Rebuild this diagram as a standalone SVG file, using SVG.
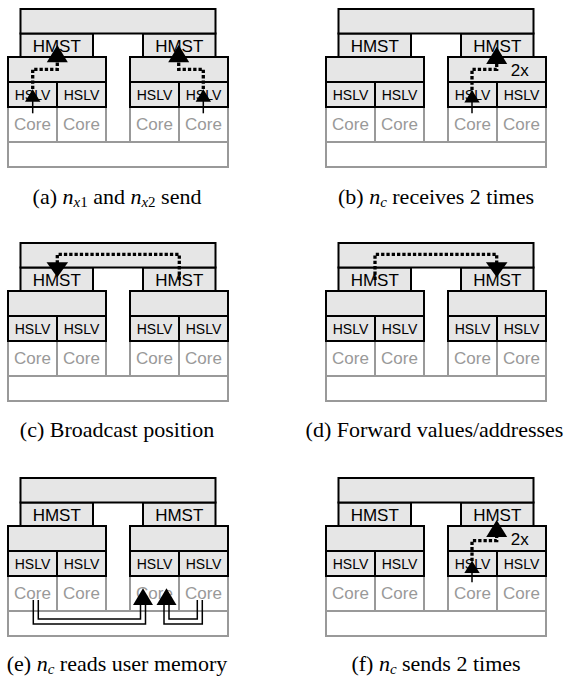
<svg xmlns="http://www.w3.org/2000/svg" width="579" height="679" viewBox="0 0 579 679">
<style>
.g{fill:#e6e6e6;stroke:#000;stroke-width:2}
.w{fill:#fff;stroke:#999;stroke-width:2}
.t{font-family:"Liberation Sans",Arial,sans-serif;text-anchor:middle;fill:#000}
.hm{font-size:17px}
.hs{font-size:14px}
.co{font-size:17px;fill:#999}
.tx{font-family:"Liberation Sans",Arial,sans-serif;font-size:17px;fill:#000}
.dot{fill:none;stroke:#000;stroke-width:3.3;stroke-dasharray:3.3 2}
.thin{fill:none;stroke:#000;stroke-width:1.5}
.head{fill:#000}
.cap{font-family:"Liberation Serif","Times New Roman",serif;font-size:22px;text-anchor:middle;fill:#000}
.it{font-style:italic}
</style>
<defs>
<g id="base">
<rect class="w" x="0" y="133" width="220" height="25"/>
<rect class="w" x="0" y="98" width="49" height="35"/><text class="t co" x="24.5" y="121">Core</text>
<rect class="w" x="49" y="98" width="49" height="35"/><text class="t co" x="73.5" y="121">Core</text>
<rect class="w" x="122" y="98" width="49" height="35"/><text class="t co" x="146.5" y="121">Core</text>
<rect class="w" x="171" y="98" width="49" height="35"/><text class="t co" x="195.5" y="121">Core</text>
<rect class="g" x="0" y="48" width="98" height="25"/>
<rect class="g" x="122" y="48" width="98" height="25"/>
<rect class="g" x="0" y="73" width="49" height="25"/><text class="t hs" x="24.5" y="91">HSLV</text>
<rect class="g" x="49" y="73" width="49" height="25"/><text class="t hs" x="73.5" y="91">HSLV</text>
<rect class="g" x="122" y="73" width="49" height="25"/><text class="t hs" x="146.5" y="91">HSLV</text>
<rect class="g" x="171" y="73" width="49" height="25"/><text class="t hs" x="195.5" y="91">HSLV</text>
<rect class="g" x="12.5" y="24.5" width="72.5" height="23.5"/><text class="t hm" x="48.75" y="42.5">HMST</text>
<rect class="g" x="135" y="24.5" width="72.5" height="23.5"/><text class="t hm" x="171.25" y="42.5">HMST</text>
<rect class="g" x="12.5" y="0" width="195" height="24.5"/>
</g>
</defs>
<g id="panel-a" transform="translate(8,9)"><use href="#base"/></g>
<g id="panel-b" transform="translate(326,9)"><use href="#base"/></g>
<g id="panel-c" transform="translate(8,243)"><use href="#base"/></g>
<g id="panel-d" transform="translate(326,243)"><use href="#base"/></g>
<g id="panel-e" transform="translate(8,478)"><use href="#base"/></g>
<g id="panel-f" transform="translate(326,478)"><use href="#base"/></g>
<g id="connectors">
<g id="conn-a" transform="translate(8,9)">
<path class="thin" d="M24.7 104.3V91"/>
<path class="dot" d="M24.7 80V60.3H49.3V53"/>
<path class="head" d="M24.7 80.3L17 92.7L32.4 92.7Z"/>
<path class="head" d="M49.3 36L38.8 53.3L59.8 53.3Z"/>
<path class="thin" d="M195.3 104.3V91"/>
<path class="dot" d="M195.3 80V60.3H170.7V53"/>
<path class="head" d="M195.3 80.3L187.6 92.7L203 92.7Z"/>
<path class="head" d="M170.7 36L160.2 53.3L181.2 53.3Z"/>
</g>
<g id="conn-b" transform="translate(326,9)">
<path class="thin" d="M146 104.3V92"/>
<path class="dot" d="M146 81V60.3H170.7V54"/>
<path class="head" d="M146 81L138.3 93.4L153.7 93.4Z"/>
<path class="head" d="M170.7 37.7L160.2 55L181.2 55Z"/>
<text class="tx" x="184.7" y="67">2x</text>
</g>
<g id="conn-c" transform="translate(8,243)">
<path class="dot" d="M171.3 37V11.3H49.3V21"/>
<path class="head" d="M49.3 34.3L38.5 19.3L60.1 19.3Z"/>
</g>
<g id="conn-d" transform="translate(326,243)">
<path class="dot" d="M49 37V11.3H170.7V21"/>
<path class="head" d="M170.7 34.3L159.9 19.3L181.5 19.3Z"/>
</g>
<g id="conn-e" transform="translate(8,478)">
<path class="thin" d="M25.3 122V146H137.5V127"/>
<path class="thin" d="M30.3 122V141H132.5V127"/>
<path class="head" d="M135 110.3L125 127L145 127Z"/>
<path class="thin" d="M194.3 122V146H156V127"/>
<path class="thin" d="M189.3 122V141H161V127"/>
<path class="head" d="M158.5 110.3L148.5 127L168.5 127Z"/>
</g>
<g id="conn-f" transform="translate(326,478)">
<path class="thin" d="M146 104.3V93"/>
<path class="dot" d="M146 83V62.7H170.7V58"/>
<path class="head" d="M146 82.7L138.3 95.1L153.7 95.1Z"/>
<path class="head" d="M170.7 42L160.2 59L181.2 59Z"/>
<text class="tx" x="184.7" y="67">2x</text>
</g>
</g>
<g id="captions">
<text class="cap" x="117" y="204">(a) <tspan class="it">n</tspan><tspan font-size="15" dy="3"><tspan class="it">x</tspan>1</tspan><tspan dy="-3"> and </tspan><tspan class="it">n</tspan><tspan font-size="15" dy="3"><tspan class="it">x</tspan>2</tspan><tspan dy="-3"> send</tspan></text>
<text class="cap" x="436" y="204">(b) <tspan class="it">n</tspan><tspan class="it" font-size="15" dy="3">c</tspan><tspan dy="-3"> receives 2 times</tspan></text>
<text class="cap" x="117" y="437">(c) Broadcast position</text>
<text class="cap" x="434.5" y="437">(d) Forward values/addresses</text>
<text class="cap" x="117" y="671">(e) <tspan class="it">n</tspan><tspan class="it" font-size="15" dy="3">c</tspan><tspan dy="-3"> reads user memory</tspan></text>
<text class="cap" x="436" y="671">(f) <tspan class="it">n</tspan><tspan class="it" font-size="15" dy="3">c</tspan><tspan dy="-3"> sends 2 times</tspan></text>
</g>
</svg>
